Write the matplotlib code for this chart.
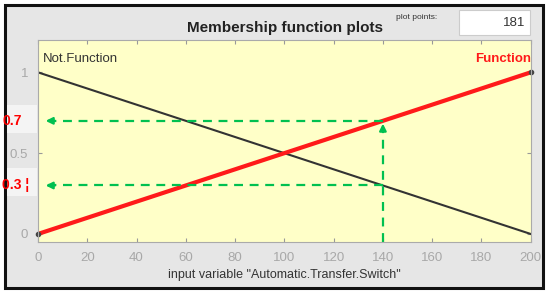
import matplotlib.pyplot as plt
from matplotlib.patches import Rectangle
from matplotlib.transforms import blended_transform_factory

plt.rcParams['font.family'] = ['Liberation Sans', 'DejaVu Sans']

# data
x_range = [0, 200]
not_function = [1, 0]
function = [0, 1]
x_ticks = [0, 20, 40, 60, 80, 100, 120, 140, 160, 180, 200]
y_ticks = [0, 0.5, 1]
input_x = 140
levels = [0.7, 0.3]
level_labels = ['0.7', '0.3 ¦']

fig = plt.figure(figsize=(5.5, 2.92), dpi=100)
fig.patch.set_facecolor('white')

# grey panel with dark frame
fig.patches.append(Rectangle((0.009, 0.014), 0.978, 0.969, transform=fig.transFigure,
                             facecolor='#e6e6e6', edgecolor='#111111', linewidth=2.2, zorder=-2))
# lighter patches behind the red labels
for y0 in [0.545, 0.33]:
    fig.patches.append(Rectangle((0.012, y0), 0.055, 0.095, transform=fig.transFigure,
                                 facecolor='#f4f4f4', edgecolor='none', zorder=-1))

ax = fig.add_axes([0.069, 0.171, 0.896, 0.692])
ax.set_facecolor('#ffffc8')

ax.plot(x_range, not_function, color='#333333', lw=1.5)
ax.plot(x_range, function, color='#ff1a1a', lw=3)
ax.plot(x_range, function, ls='none', marker='o', ms=3, color='#444444', clip_on=False)

# green guide lines
g = '#00c050'
for lv in levels:
    ax.plot([input_x, 4], [lv, lv], color=g, lw=1.6, ls=(0, (4, 3)))
    ax.annotate('', xy=(2, lv), xytext=(8, lv),
                arrowprops=dict(arrowstyle='-|>', color=g, lw=1.6, mutation_scale=10))
ax.plot([input_x, input_x], [-0.05, 0.66], color=g, lw=1.6, ls=(0, (4, 3)))
ax.annotate('', xy=(input_x, 0.7), xytext=(input_x, 0.62),
            arrowprops=dict(arrowstyle='-|>', color=g, lw=1.6, mutation_scale=10))

ax.text(2, 1.085, 'Not.Function', color='#333333', fontsize=9.5, va='center')
ax.text(200, 1.085, 'Function', color='#ff1a1a', fontsize=9.5, fontweight='bold',
        va='center', ha='right')

ax.set_xlim(0, 200)
ax.set_ylim(-0.05, 1.2)
ax.set_xticks(x_ticks)
ax.set_yticks(y_ticks)
ax.set_yticklabels(['0', '0.5', '1'])
ax.tick_params(colors='#999999', labelsize=9.5, direction='in', top=True, right=True,
               length=3, pad=7)
ax.tick_params(axis='x', labelcolor='#a8a8a8')
ax.tick_params(axis='y', labelcolor='#a8a8a8')
for s in ax.spines.values():
    s.set_color('#aaaaaa')
ax.set_xlabel('input variable "Automatic.Transfer.Switch"', fontsize=9,
              color='#333333', labelpad=4)

trans = blended_transform_factory(fig.transFigure, ax.transData)
for lv, lab in zip(levels, level_labels):
    fig.text(0.004, lv, lab, transform=trans, color='red',
             fontweight='bold', fontsize=10, va='center', ha='left')

fig.text(0.518, 0.905, 'Membership function plots', fontsize=11, fontweight='bold',
         ha='center', va='center', color='#222222')
fig.text(0.72, 0.94, 'plot points:', fontsize=6, ha='left', va='center', color='#333333')
fig.patches.append(Rectangle((0.834, 0.88), 0.13, 0.085, transform=fig.transFigure,
                             facecolor='white', edgecolor='#cccccc', linewidth=0.8))
fig.text(0.955, 0.922, '181', fontsize=9.5, ha='right', va='center', color='#333333')

plt.savefig('out.png', dpi=100)
